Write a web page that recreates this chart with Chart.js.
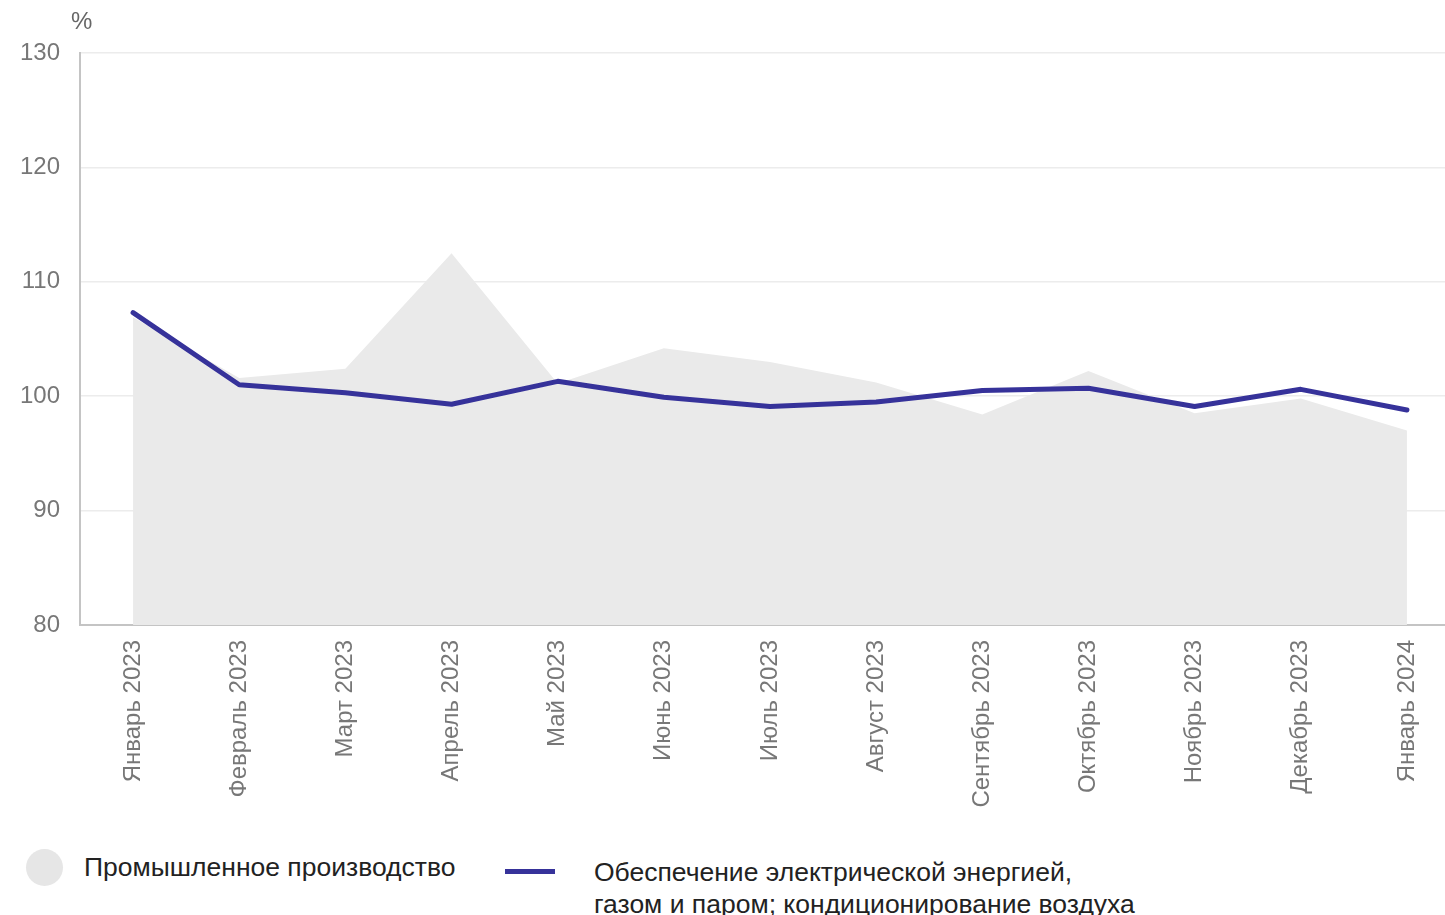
<!DOCTYPE html>
<html>
<head>
<meta charset="utf-8">
<script src="https://cdn.jsdelivr.net/npm/chart.js@4"></script>
<style>
  html, body { margin:0; padding:0; background:#fff; overflow:hidden; width:1445px; height:915px; }
  #wrap { position:relative; width:1445px; height:915px; overflow:hidden; font-family:"Liberation Sans", Arial, sans-serif; }
  canvas { position:absolute; left:0; top:0; }
  #unit { position:absolute; left:71px; top:7px; font-size:24px; color:#666; }
  .leg { position:absolute; font-size:26.5px; color:#222; line-height:32px; }
  #sw1 { position:absolute; left:26px; top:849px; width:37px; height:37px; border-radius:50%; background:#e6e6e6; }
  #sw2 { position:absolute; left:505px; top:869px; width:50px; height:5px; background:#36329a; }
</style>
</head>
<body>
<div id="wrap">
  <canvas id="c" width="1460" height="820"></canvas>
  <div id="unit">%</div>
  <div id="sw1"></div>
  <div class="leg" style="left:84px; top:851px;">Промышленное производство</div>
  <div id="sw2"></div>
  <div class="leg" style="left:594px; top:856px;">Обеспечение электрической энергией,<br>газом и паром; кондиционирование воздуха</div>
</div>
<script>
const categories = ["Январь 2023","Февраль 2023","Март 2023","Апрель 2023","Май 2023","Июнь 2023","Июль 2023","Август 2023","Сентябрь 2023","Октябрь 2023","Ноябрь 2023","Декабрь 2023","Январь 2024"];
const industryValues = [106.9, 101.6, 102.4, 112.5, 101.1, 104.2, 103.0, 101.2, 98.4, 102.2, 98.5, 99.8, 97.0];
const energyValues = [107.3, 101.0, 100.3, 99.3, 101.3, 99.9, 99.1, 99.5, 100.5, 100.7, 99.1, 100.6, 98.8];
const yTicks = [80, 90, 100, 110, 120, 130];
const seriesNames = ["Промышленное производство", "Обеспечение электрической энергией, газом и паром; кондиционирование воздуха"];

new Chart(document.getElementById('c'), {
  type: 'line',
  data: {
    labels: categories,
    datasets: [
      {
        label: seriesNames[1],
        data: energyValues,
        borderColor: '#36329a',
        backgroundColor: '#36329a',
        borderWidth: 5,
        pointRadius: 0,
        tension: 0,
        fill: false,
        borderCapStyle: 'round',
        borderJoinStyle: 'round',
        order: 1
      },
      {
        label: seriesNames[0],
        data: industryValues,
        borderColor: 'rgba(0,0,0,0)',
        borderWidth: 0,
        backgroundColor: '#eaeaea',
        pointRadius: 0,
        tension: 0,
        fill: 'start',
        order: 2
      }
    ]
  },
  options: {
    responsive: false,
    animation: false,
    layout: { padding: { top: 53, left: 0, right: 0, bottom: 0 } },
    plugins: { legend: { display: false }, tooltip: { enabled: false } },
    scales: {
      x: {
        offset: true,
        grid: { display: false, drawTicks: false },
        border: { display: true, color: '#c4c4c4', width: 2 },
        ticks: {
          color: '#777',
          font: { family: 'Liberation Sans', size: 24 },
          minRotation: 90, maxRotation: 90,
          padding: 15,
          autoSkip: false
        },
        afterFit: (s) => { s.height = 195; }
      },
      y: {
        min: 80, max: 130,
        afterBuildTicks: (s) => { s.ticks = yTicks.map(v => ({ value: v })); },
        grid: { color: '#ececec', lineWidth: 1.5, drawTicks: false },
        border: { display: true, color: '#c4c4c4', width: 2 },
        ticks: {
          color: '#777',
          font: { family: 'Liberation Sans', size: 24 },
          padding: 20
        },
        afterFit: (s) => { s.width = 80; }
      }
    }
  }
});
</script>
</body>
</html>
